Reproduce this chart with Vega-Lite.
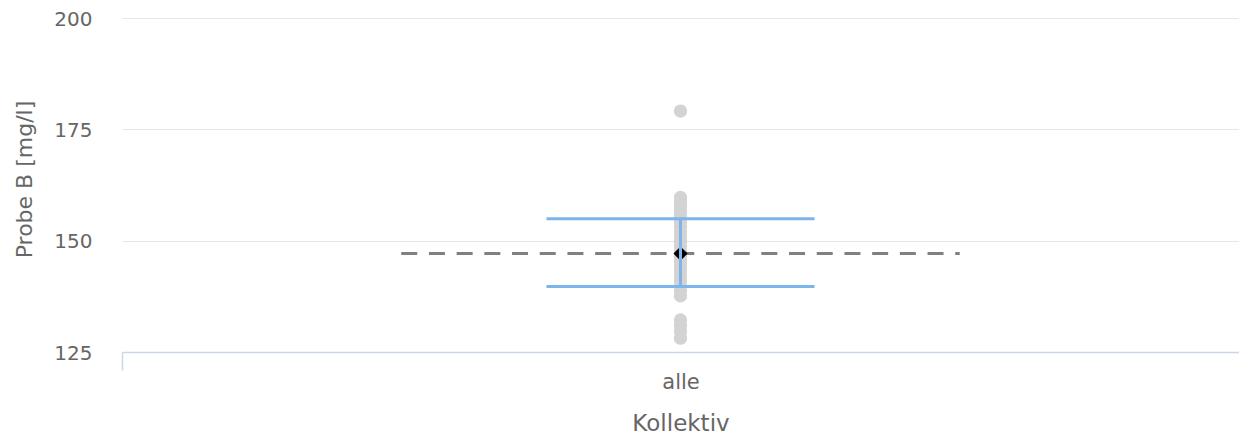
{
  "$schema": "https://vega.github.io/schema/vega-lite/v6.json",
  "width": 1117,
  "height": 334,
  "autosize": {"type": "none"},
  "padding": {"left": 122, "top": 18, "right": 0, "bottom": 85},
  "background": "#ffffff",
  "config": {
    "view": {"stroke": null},
    "font": "DejaVu Sans"
  },
  "datasets": {
    "werte": [
      {"kollektiv": "alle", "wert": 179.1},
      {"kollektiv": "alle", "wert": 159.7},
      {"kollektiv": "alle", "wert": 158.6},
      {"kollektiv": "alle", "wert": 157.5},
      {"kollektiv": "alle", "wert": 156.4},
      {"kollektiv": "alle", "wert": 155.3},
      {"kollektiv": "alle", "wert": 154.2},
      {"kollektiv": "alle", "wert": 153.1},
      {"kollektiv": "alle", "wert": 152.0},
      {"kollektiv": "alle", "wert": 150.9},
      {"kollektiv": "alle", "wert": 149.8},
      {"kollektiv": "alle", "wert": 148.7},
      {"kollektiv": "alle", "wert": 147.6},
      {"kollektiv": "alle", "wert": 146.5},
      {"kollektiv": "alle", "wert": 145.4},
      {"kollektiv": "alle", "wert": 144.3},
      {"kollektiv": "alle", "wert": 143.2},
      {"kollektiv": "alle", "wert": 142.1},
      {"kollektiv": "alle", "wert": 141.0},
      {"kollektiv": "alle", "wert": 139.9},
      {"kollektiv": "alle", "wert": 138.8},
      {"kollektiv": "alle", "wert": 137.6},
      {"kollektiv": "alle", "wert": 132.2},
      {"kollektiv": "alle", "wert": 131.0},
      {"kollektiv": "alle", "wert": 129.6},
      {"kollektiv": "alle", "wert": 128.1}
    ],
    "statistik": [
      {"kollektiv": "alle", "mittelwert": 147.1, "unten": 139.7, "oben": 154.9}
    ]
  },
  "layer": [
    {
      "data": {"name": "werte"},
      "mark": {"type": "circle", "size": 177, "color": "#d3d3d3", "opacity": 1},
      "encoding": {
        "x": {
          "datum": 0,
          "type": "quantitative",
          "scale": {"domain": [-0.5, 0.5], "nice": false, "zero": false},
          "axis": {
            "title": "Kollektiv",
            "values": [-0.5, 0],
            "labelExpr": "datum.value === 0 ? 'alle' : ''",
            "grid": false,
            "domainColor": "#ccd6eb",
            "domainWidth": 1.5,
            "tickColor": "#ccd6eb",
            "tickWidth": 1.5,
            "tickSize": 18,
            "tickOpacity": {"condition": {"test": "datum.value === 0", "value": 0}, "value": 1},
            "labelFont": "DejaVu Sans",
            "labelFontSize": 21,
            "labelColor": "#666666",
            "labelBaseline": "alphabetic",
            "labelPadding": 18,
            "labelFlush": false,
            "titleFont": "DejaVu Sans",
            "titleFontSize": 23,
            "titleFontWeight": "normal",
            "titleColor": "#666666",
            "titleBaseline": "alphabetic",
            "titleY": 78
          }
        },
        "y": {
          "field": "wert",
          "type": "quantitative",
          "scale": {"domain": [125, 200], "nice": false, "zero": false},
          "axis": {
            "title": "Probe B [mg/l]",
            "values": [125, 150, 175, 200],
            "grid": true,
            "gridColor": "#e6e6e6",
            "gridWidth": 1,
            "domain": false,
            "ticks": false,
            "labelFont": "DejaVu Sans",
            "labelFontSize": 20,
            "labelColor": "#666666",
            "labelPadding": 30,
            "labelBaseline": "alphabetic",
            "labelOffset": 7,
            "titleFont": "DejaVu Sans",
            "titleFontSize": 22,
            "titleFontWeight": "normal",
            "titleColor": "#666666",
            "titleAngle": -90,
            "titleBaseline": "alphabetic",
            "titleAlign": "center",
            "titleX": -91,
            "titleY": 161
          }
        }
      }
    },
    {
      "data": {"name": "statistik"},
      "mark": {"type": "rule", "color": "#808080", "strokeWidth": 3, "strokeDash": [16, 11.7]},
      "encoding": {
        "y": {"field": "mittelwert", "type": "quantitative"},
        "x": {"datum": -0.25, "type": "quantitative"},
        "x2": {"datum": 0.25}
      }
    },
    {
      "data": {"name": "statistik"},
      "mark": {"type": "point", "shape": "diamond", "filled": true, "color": "#000000", "size": 200, "opacity": 1},
      "encoding": {
        "y": {"field": "mittelwert", "type": "quantitative"},
        "x": {"datum": 0, "type": "quantitative"}
      }
    },
    {
      "data": {"name": "statistik"},
      "mark": {"type": "rule", "color": "#7cb5ec", "strokeWidth": 3},
      "encoding": {
        "y": {"field": "oben", "type": "quantitative"},
        "x": {"datum": -0.12, "type": "quantitative"},
        "x2": {"datum": 0.12}
      }
    },
    {
      "data": {"name": "statistik"},
      "mark": {"type": "rule", "color": "#7cb5ec", "strokeWidth": 3},
      "encoding": {
        "y": {"field": "unten", "type": "quantitative"},
        "x": {"datum": -0.12, "type": "quantitative"},
        "x2": {"datum": 0.12}
      }
    },
    {
      "data": {"name": "statistik"},
      "mark": {"type": "rule", "color": "#7cb5ec", "strokeWidth": 3},
      "encoding": {
        "x": {"datum": 0, "type": "quantitative"},
        "y": {"field": "unten", "type": "quantitative"},
        "y2": {"field": "oben"}
      }
    }
  ]
}
